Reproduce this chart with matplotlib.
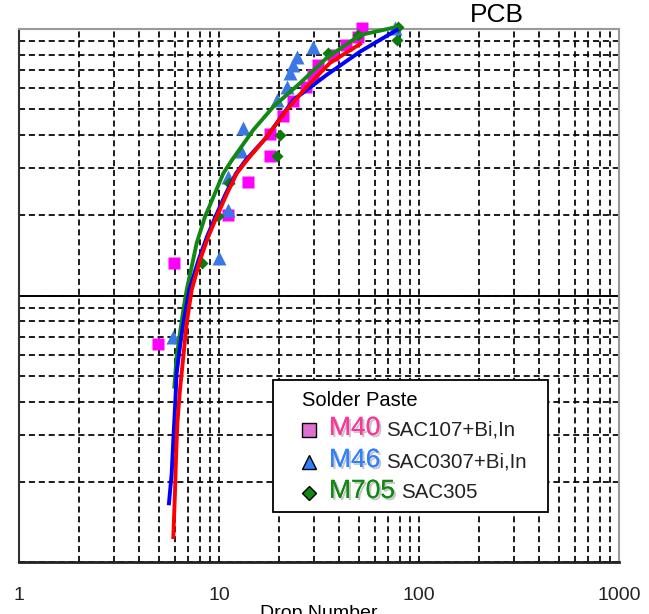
import numpy as np
import matplotlib
matplotlib.use('Agg')
import matplotlib.pyplot as plt
from matplotlib import patheffects as pe
from matplotlib.patches import Rectangle
from matplotlib.lines import Line2D

plt.rcParams['font.family'] = ['Liberation Sans', 'DejaVu Sans']

# measured points (drop number, y value)
m40_x = [4.95, 5.96, 11.1, 14.0, 18.0, 18.0, 20.9, 23.4, 27.2, 29.5, 31.3, 37.2, 43.2, 49.5, 51.9]
m40_y = [0.66, 1.32, 2.0, 2.67, 3.34, 4.04, 4.72, 5.37, 6.06, 6.7, 7.3, 8.0, 8.7, 9.3, 10.1]

m46_x = [5.9, 10.0, 11.1, 11.1, 12.9, 13.2, 19.5, 21.9, 22.6, 23.4, 24.5, 29.5, 75.9]
m46_y = [0.70, 1.38, 2.1, 2.78, 3.5, 4.25, 5.4, 6.06, 6.84, 7.33, 7.85, 8.56, 10.1]

m705_x = [8.2, 9.89, 11.2, 19.5, 20.2, 35.1, 49.5, 77.4, 78.6]
m705_y = [1.32, 1.99, 2.64, 3.34, 4.0, 8.13, 9.5, 9.09, 10.2]

# fitted curves
red_x = [5.91, 6.03, 6.10, 6.19, 6.38, 6.63, 6.89, 7.30, 8.04, 8.84, 9.74, 10.93, 12.26, 13.8, 17.32, 21.8, 27.45, 35.9, 50.7]
red_y = [0.124, 0.186, 0.248, 0.331, 0.442, 0.589, 0.786, 1.048, 1.359, 1.662, 1.975, 2.40, 2.87, 3.22, 3.94, 4.97, 6.07, 7.46, 8.78]

blue_x = [5.62, 5.80, 5.91, 6.03, 6.14, 6.38, 6.63, 7.10, 7.90, 8.71, 9.60, 10.78, 12.16, 13.6, 17.32, 23.5, 34.5, 50.7, 77.4]
blue_y = [0.166, 0.215, 0.287, 0.383, 0.511, 0.643, 0.786, 1.048, 1.359, 1.662, 1.975, 2.40, 2.87, 3.22, 3.93, 5.41, 6.72, 8.22, 9.91]

green_x = [5.98, 6.14, 6.38, 6.63, 6.89, 7.25, 7.73, 8.51, 9.55, 10.5, 11.6, 14.84, 18.69, 25.4, 34.5, 50.7, 78.5]
green_y = [0.455, 0.589, 0.721, 0.882, 1.048, 1.25, 1.57, 1.975, 2.42, 2.87, 3.22, 4.18, 5.11, 6.26, 7.78, 9.49, 10.2]

W, H = 649, 614
fig = plt.figure(figsize=(W / 100, H / 100), dpi=100)
ax = fig.add_axes([19 / W, 1 - 562 / H, 600 / W, 533 / H])
ax.set_xscale('log')
ax.set_yscale('log')
ax.set_xlim(1, 1000)
ax.set_ylim(0.1, 10)

ax.grid(True, which='both', color='black', linestyle=(0, (3.5, 2.2)), linewidth=1.25)
ax.axhline(1, color='black', lw=1.4, zorder=2.5)

ax.set_xticks([1, 10, 100, 1000])
ax.set_xticklabels(['1', '10', '100', '1000'])
ax.set_yticklabels([], minor=False)
ax.set_yticklabels([], minor=True)
ax.tick_params(axis='both', which='both', length=0)
ax.tick_params(axis='x', pad=18, labelsize=14, colors='#222222')
ax.set_xlabel('Drop Number', fontsize=14, labelpad=1)

for s in ['top', 'right']:
    ax.spines[s].set_color('#999999')
    ax.spines[s].set_linewidth(1.5)
ax.spines['left'].set_color('#333333')
ax.spines['left'].set_linewidth(1.5)
ax.spines['bottom'].set_color('#222222')
ax.spines['bottom'].set_linewidth(2)

ax.plot(m40_x, m40_y, 's', color='#FF00FF', ms=8.5, mec='none', zorder=3, clip_on=False)
ax.plot(m46_x, m46_y, '^', color='#3B78E6', ms=9.5, mec='none', zorder=3, clip_on=False)
ax.plot(m705_x, m705_y, 'D', color='#0A7A0A', ms=6.5, mec='none', zorder=3, clip_on=False)

ax.plot(green_x, green_y, color='#118811', lw=2.8, zorder=4, clip_on=False)
ax.plot(blue_x, blue_y, color='#0000FF', lw=2.8, zorder=5, clip_on=False)
ax.plot(red_x, red_y, color='#FF0000', lw=2.8, zorder=6, clip_on=False)

fig.text(497 / W, 1 - 15 / H, 'PCB', ha='center', va='center', fontsize=19)


def fx(px):
    return px / W


def fy(py):
    return 1 - py / H


# legend box
fig.add_artist(Rectangle((fx(273), fy(512)), (548 - 273) / W, (512 - 380) / H,
                         transform=fig.transFigure, facecolor='white',
                         edgecolor='black', lw=1.3, zorder=10))
fig.text(fx(302), fy(401), 'Solder Paste', fontsize=14.5, va='center', zorder=11)

rows = [
    ('s', '#E070D0', 10, 'M40', '#FF3399', 'SAC107+Bi,In', 428),
    ('^', '#2F7FFF', 10, 'M46', '#2F7FFF', 'SAC0307+Bi,In', 460),
    ('D', '#118811', 7.5, 'M705', '#118811', 'SAC305', 491),
]
shadow = [pe.withSimplePatchShadow(offset=(1.5, -1.5), shadow_rgbFace='gray', alpha=0.45), pe.Normal()]
for mk, mcol, ms, name, ncol, desc, py in rows:
    fig.add_artist(Line2D([fx(309)], [fy(py + 2)], marker=mk, color=mcol, ms=ms,
                          mec='black', mew=1.0, transform=fig.transFigure, zorder=11))
    t = fig.text(fx(329), fy(py), name, fontsize=19, color=ncol, va='center',
                 zorder=11, path_effects=shadow)
    fig.canvas.draw()
    bb = t.get_window_extent()
    fig.text(bb.x1 / W + 6 / W, fy(py + 2), desc, fontsize=14.8, color='#222222',
             va='center', zorder=11)

fig.savefig('out.png', dpi=100)
